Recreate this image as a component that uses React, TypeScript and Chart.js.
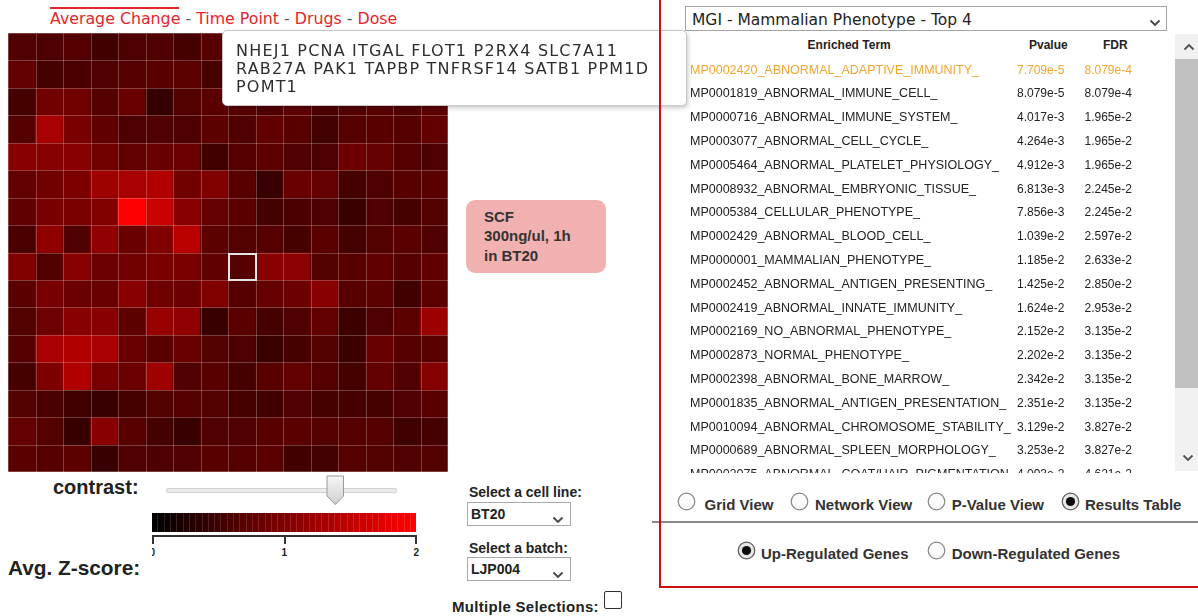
import React, { useEffect, useRef } from "react";
import { Chart, registerables } from "chart.js";

Chart.register(...registerables);

// ---------------- DATA ----------------
const columnLabels = ["1", "2", "3", "4", "5", "6", "7", "8", "9", "10", "11", "12", "13", "14", "15", "16"];

// Average z-score per cell, one array per heatmap row (top to bottom)
const zRow01 = [0.63, 0.60, 0.67, 0.50, 0.60, 0.63, 0.54, 0.69, 0.66, 0.62, 0.70, 0.58, 0.64, 0.68, 0.60, 0.65];
const zRow02 = [0.77, 0.56, 0.58, 0.63, 0.67, 0.69, 0.72, 0.56, 0.60, 0.71, 0.64, 0.66, 0.58, 0.70, 0.62, 0.67];
const zRow03 = [0.54, 0.89, 0.88, 0.67, 0.82, 0.42, 0.64, 0.71, 0.68, 0.62, 0.72, 0.60, 0.66, 0.70, 0.64, 0.74];
const zRow04 = [0.67, 1.32, 0.94, 0.75, 0.60, 0.63, 0.60, 0.72, 0.63, 0.77, 0.69, 0.52, 0.67, 0.69, 0.67, 0.77];
const zRow05 = [1.07, 1.04, 1.07, 0.89, 0.77, 0.82, 0.83, 0.50, 0.67, 0.72, 0.63, 0.60, 0.85, 0.79, 0.67, 0.60];
const zRow06 = [0.77, 0.88, 0.97, 1.25, 1.32, 1.38, 0.88, 1.00, 0.69, 0.44, 0.82, 0.79, 0.56, 0.60, 0.69, 0.71];
const zRow07 = [0.75, 0.94, 0.94, 1.00, 2.00, 1.57, 1.07, 0.79, 0.71, 0.54, 0.58, 0.60, 0.44, 0.63, 0.54, 0.64];
const zRow08 = [0.58, 1.13, 0.63, 1.13, 0.82, 1.00, 1.44, 0.72, 0.64, 0.67, 0.56, 0.71, 0.54, 0.64, 0.71, 0.63];
const zRow09 = [1.00, 0.63, 1.07, 0.83, 0.89, 0.96, 0.94, 0.75, 0.67, 1.07, 1.10, 0.64, 0.69, 0.75, 0.67, 0.75];
const zRow10 = [0.71, 0.94, 0.83, 0.82, 1.07, 0.88, 0.83, 1.00, 0.67, 0.79, 0.83, 1.07, 0.69, 0.72, 0.50, 0.72];
const zRow11 = [0.64, 0.85, 1.07, 1.07, 0.72, 1.19, 1.13, 0.44, 0.71, 0.56, 0.63, 0.77, 0.47, 0.60, 0.72, 1.22];
const zRow12 = [0.67, 1.32, 1.38, 1.32, 0.82, 0.69, 0.82, 0.64, 0.60, 0.45, 0.56, 0.64, 0.47, 0.82, 0.67, 0.69];
const zRow13 = [0.56, 0.97, 1.38, 0.94, 0.83, 1.25, 0.63, 0.69, 0.56, 0.69, 0.77, 0.67, 0.54, 0.77, 0.63, 1.04];
const zRow14 = [0.64, 0.60, 0.50, 0.44, 0.56, 0.64, 0.67, 0.64, 0.56, 0.50, 0.63, 0.54, 0.56, 0.54, 0.63, 0.69];
const zRow15 = [0.79, 0.67, 0.42, 1.07, 0.69, 0.54, 0.44, 0.63, 0.63, 0.69, 0.71, 0.67, 0.67, 0.67, 0.49, 0.56];
const zRow16 = [0.71, 0.67, 0.72, 0.44, 0.63, 0.60, 0.63, 0.69, 0.67, 0.71, 0.50, 0.52, 0.67, 0.64, 0.63, 0.64];
const zRows = [zRow01, zRow02, zRow03, zRow04, zRow05, zRow06, zRow07, zRow08, zRow09, zRow10, zRow11, zRow12, zRow13, zRow14, zRow15, zRow16];

const selectedRow = 8;
const selectedCol = 8;
const zMax = 2;
const colorbarTicks = ["0", "1", "2"];

const headerParts = ["Average Change", "Time Point", "Drugs", "Dose"];
const tooltipLines = ["NHEJ1 PCNA ITGAL FLOT1 P2RX4 SLC7A11", "RAB27A PAK1 TAPBP TNFRSF14 SATB1 PPM1D", "POMT1"];
const infoLines = ["SCF", "300ng/ul, 1h", "in BT20"];

const enrichedTerms = [
  "MP0002420_ABNORMAL_ADAPTIVE_IMMUNITY_",
  "MP0001819_ABNORMAL_IMMUNE_CELL_",
  "MP0000716_ABNORMAL_IMMUNE_SYSTEM_",
  "MP0003077_ABNORMAL_CELL_CYCLE_",
  "MP0005464_ABNORMAL_PLATELET_PHYSIOLOGY_",
  "MP0008932_ABNORMAL_EMBRYONIC_TISSUE_",
  "MP0005384_CELLULAR_PHENOTYPE_",
  "MP0002429_ABNORMAL_BLOOD_CELL_",
  "MP0000001_MAMMALIAN_PHENOTYPE_",
  "MP0002452_ABNORMAL_ANTIGEN_PRESENTING_",
  "MP0002419_ABNORMAL_INNATE_IMMUNITY_",
  "MP0002169_NO_ABNORMAL_PHENOTYPE_",
  "MP0002873_NORMAL_PHENOTYPE_",
  "MP0002398_ABNORMAL_BONE_MARROW_",
  "MP0001835_ABNORMAL_ANTIGEN_PRESENTATION_",
  "MP0010094_ABNORMAL_CHROMOSOME_STABILITY_",
  "MP0000689_ABNORMAL_SPLEEN_MORPHOLOGY_",
  "MP0002075_ABNORMAL_COAT/HAIR_PIGMENTATION_",
];
const pValues = ["7.709e-5", "8.079e-5", "4.017e-3", "4.264e-3", "4.912e-3", "6.813e-3", "7.856e-3", "1.039e-2", "1.185e-2", "1.425e-2", "1.624e-2", "2.152e-2", "2.202e-2", "2.342e-2", "2.351e-2", "3.129e-2", "3.253e-2", "4.093e-2"];
const fdrValues = ["8.079e-4", "8.079e-4", "1.965e-2", "1.965e-2", "1.965e-2", "2.245e-2", "2.245e-2", "2.597e-2", "2.633e-2", "2.850e-2", "2.953e-2", "3.135e-2", "3.135e-2", "3.135e-2", "3.135e-2", "3.827e-2", "3.827e-2", "4.621e-2"];
const highlightedTerm = 0;

const viewOptions = ["Grid View", "Network View", "P-Value View", "Results Table"];
const viewChecked = 3;
const regulationOptions = ["Up-Regulated Genes", "Down-Regulated Genes"];
const regulationChecked = 0;

// ---------------- HELPERS ----------------
const ARIAL = '"Liberation Sans", Arial, Helvetica, sans-serif';
const VERDANA = '"DejaVu Sans", Verdana, sans-serif';

function zColor(z: number) {
  const t = Math.max(0, Math.min(1, z / zMax));
  return `rgb(${Math.round(255 * t)},0,0)`;
}

type TProps = {
  x: number; y: number; size: number; lh?: number; bold?: boolean; font?: string;
  color?: string; spacing?: number; children: React.ReactNode; style?: React.CSSProperties;
};
function T({ x, y, size, lh, bold, font, color, spacing, children, style }: TProps) {
  const L = lh ?? Math.round(size * 1.25);
  return (
    <div
      style={{
        position: "absolute", left: x, top: y - L / 2, fontSize: size, lineHeight: L + "px",
        fontFamily: font ?? ARIAL, fontWeight: bold ? 700 : 400, color: color ?? "#222",
        whiteSpace: "nowrap", letterSpacing: spacing ?? 0, ...style,
      }}
    >
      {children}
    </div>
  );
}

function Chevron({ x, y, up, color }: { x: number; y: number; up?: boolean; color?: string }) {
  return (
    <svg style={{ position: "absolute", left: x - 6, top: y - 4 }} width={12} height={8}>
      <polyline
        points={up ? "1.5,6.5 6,2 10.5,6.5" : "1.5,1.5 6,6 10.5,1.5"}
        fill="none" stroke={color ?? "#444"} strokeWidth={1.8}
      />
    </svg>
  );
}

function Radio({ cx, cy, checked }: { cx: number; cy: number; checked?: boolean }) {
  return (
    <svg style={{ position: "absolute", left: cx - 9.5, top: cy - 9.5 }} width={19} height={19}>
      <circle cx={9.5} cy={9.5} r={8.3} fill={checked ? "#e8e8e8" : "#fbfbfb"} stroke={checked ? "#5a5a5a" : "#858585"} strokeWidth={1.2} />
      {checked && <circle cx={9.5} cy={9.5} r={4.6} fill="#0c0c0c" />}
    </svg>
  );
}

// ---------------- HEATMAP (Chart.js) ----------------
function Heatmap() {
  const ref = useRef<HTMLCanvasElement>(null);
  useEffect(() => {
    const canvas = ref.current;
    if (!canvas) return;
    const gridPlugin = {
      id: "cellGrid",
      afterDatasetsDraw(chart: any) {
        const { ctx, chartArea, scales } = chart;
        const xs = scales.x;
        const ys = scales.y;
        const n = columnLabels.length;
        const xb: number[] = [];
        for (let i = 0; i <= n; i++) {
          if (i === 0) xb.push(chartArea.left);
          else if (i === n) xb.push(chartArea.right);
          else xb.push((xs.getPixelForValue(i - 1) + xs.getPixelForValue(i)) / 2);
        }
        const yb: number[] = [];
        for (let k = 0; k <= zRows.length; k++) yb.push(ys.getPixelForValue(k));
        ctx.save();
        ctx.strokeStyle = "rgba(255,235,235,0.26)";
        ctx.lineWidth = 1;
        ctx.beginPath();
        xb.forEach((x) => {
          const px = Math.min(Math.max(Math.round(x), chartArea.left), chartArea.right - 1) + 0.5;
          ctx.moveTo(px, chartArea.top);
          ctx.lineTo(px, chartArea.bottom);
        });
        yb.forEach((y) => {
          const py = Math.min(Math.max(Math.round(y), chartArea.top), chartArea.bottom - 1) + 0.5;
          ctx.moveTo(chartArea.left, py);
          ctx.lineTo(chartArea.right, py);
        });
        ctx.stroke();
        const x0 = Math.round(xb[selectedCol]);
        const x1 = Math.round(xb[selectedCol + 1]);
        const y0 = Math.round(yb[selectedRow]);
        const y1 = Math.round(yb[selectedRow + 1]);
        ctx.strokeStyle = "#e4e4e4";
        ctx.lineWidth = 2;
        ctx.strokeRect(x0 + 1, y0 + 1, x1 - x0 - 1, y1 - y0 - 1);
        ctx.restore();
      },
    };
    const datasets = zRows.map((row, i) => ({
      label: `Row ${i + 1}`,
      data: row.map(() => 1),
      backgroundColor: row.map((z) => zColor(z)),
      borderWidth: 0,
      barPercentage: 1,
      categoryPercentage: 1,
      stack: "cells",
    }));
    const chart = new Chart(canvas, {
      type: "bar",
      data: { labels: columnLabels, datasets },
      options: {
        responsive: false,
        animation: false,
        devicePixelRatio: 1,
        layout: { padding: 0 },
        events: [],
        plugins: { legend: { display: false }, tooltip: { enabled: false } },
        scales: {
          x: { type: "category", stacked: true, display: false, offset: true },
          y: { type: "linear", stacked: true, min: 0, max: zRows.length, reverse: true, display: false },
        },
      } as any,
      plugins: [gridPlugin],
    });
    return () => chart.destroy();
  }, []);
  return (
    <canvas
      ref={ref}
      width={440}
      height={439}
      style={{ position: "absolute", left: 8, top: 33, width: 440, height: 439, background: "#520000" }}
    />
  );
}

// ---------------- APP ----------------
export default function App() {
  const segCount = 42;
  const segments = Array.from({ length: segCount }, (_, i) => (i / (segCount - 1)) * zMax);
  const rowStep = 23.8;

  return (
    <div style={{ position: "fixed", left: 0, top: 0, width: 1198, height: 616, overflow: "hidden", background: "#fff" }}>
      {/* header */}
      <div style={{ position: "absolute", left: 50, top: 7, width: 129, height: 2, background: "#e5252c" }} />
      <T x={50} y={18.5} size={15.8} lh={20} font={VERDANA} color="#e5252c">
        {headerParts.map((p, i) => (
          <span key={p}>
            {i > 0 && <span style={{ color: "#555" }}> - </span>}
            {p}
          </span>
        ))}
      </T>

      <Heatmap />

      {/* info box */}
      <div style={{ position: "absolute", left: 466, top: 200, width: 140, height: 73, borderRadius: 9, background: "#f2b1b1" }} />
      {infoLines.map((l, i) => (
        <T key={l} x={484} y={216.7 + i * 19.2} size={15} lh={19} bold color="#333">{l}</T>
      ))}

      {/* contrast */}
      <T x={53} y={487} size={20} lh={22} bold color="#222">contrast:</T>
      <div style={{ position: "absolute", left: 166, top: 488, width: 231, height: 5, boxSizing: "border-box", background: "#ebebeb", border: "1px solid #d2d2d2", borderRadius: 2 }} />
      <svg style={{ position: "absolute", left: 326, top: 475 }} width={19} height={31}>
        <defs>
          <linearGradient id="thumbG" x1="0" y1="0" x2="0" y2="1">
            <stop offset="0" stopColor="#f7f7f7" />
            <stop offset="1" stopColor="#cfcfcf" />
          </linearGradient>
        </defs>
        <polygon points="1,1 17.5,1 17.5,21 9.25,29.5 1,21" fill="url(#thumbG)" stroke="#9a9a9a" strokeWidth={1} />
      </svg>

      {/* colour bar */}
      <div style={{ position: "absolute", left: 152, top: 513, width: 264, height: 19, display: "flex" }}>
        {segments.map((z, i) => (
          <div key={i} style={{ flex: 1, background: zColor(z), borderRight: i < segCount - 1 ? "1px solid rgba(255,255,255,0.14)" : "none" }} />
        ))}
      </div>
      <div style={{ position: "absolute", left: 152, top: 535, width: 265, height: 2, background: "#333" }} />
      {colorbarTicks.map((t, i) => (
        <div key={"tk" + t} style={{ position: "absolute", left: 152 + i * 131.5, top: 535, width: 2, height: 9, background: "#333" }} />
      ))}
      <div style={{ position: "absolute", left: 152, top: 540, width: 280, height: 20, overflow: "hidden" }}>
        {colorbarTicks.map((t, i) => (
          <T key={t} x={i * 132 - 2.5} y={13} size={10} lh={12} bold color="#222">{t}</T>
        ))}
      </div>
      <T x={8} y={568} size={20.8} lh={24} bold color="#222">Avg. Z-score:</T>

      {/* selectors */}
      <T x={469} y={492} size={14} lh={16} bold color="#222">Select a cell line:</T>
      <div style={{ position: "absolute", left: 467, top: 502, width: 104, height: 24, boxSizing: "border-box", border: "1px solid #a9a9a9", background: "#fff" }} />
      <T x={471} y={514} size={14} lh={16} bold color="#222">BT20</T>
      <Chevron x={558} y={520} />
      <T x={469} y={547.5} size={14} lh={16} bold color="#222">Select a batch:</T>
      <div style={{ position: "absolute", left: 467, top: 557, width: 104, height: 24, boxSizing: "border-box", border: "1px solid #a9a9a9", background: "#fff" }} />
      <T x={471} y={569} size={14} lh={16} bold color="#222">LJP004</T>
      <Chevron x={558} y={575} />
      <T x={452} y={606.7} size={15} lh={17} bold color="#222" spacing={0.3}>Multiple Selections:</T>
      <div style={{ position: "absolute", left: 604, top: 591, width: 18, height: 18, boxSizing: "border-box", border: "1px solid #333", borderRadius: 2, background: "#fff" }} />

      {/* tooltip */}
      <div style={{ position: "absolute", left: 222, top: 30, width: 465, height: 76, boxSizing: "border-box", border: "1px solid #c9c9c9", borderRadius: 5, background: "#fff", boxShadow: "1px 2px 4px rgba(0,0,0,0.22)" }} />
      {tooltipLines.map((l, i) => (
        <T key={l} x={236} y={50.7 + i * 18} size={16} lh={18} font={VERDANA} color="#2e2e2e" spacing={1.2}>{l}</T>
      ))}

      {/* right panel */}
      <div style={{ position: "absolute", left: 685, top: 6, width: 482, height: 25, boxSizing: "border-box", border: "1px solid #a4a4a4", background: "#fff" }} />
      <T x={692} y={20} size={15.5} lh={18} font={VERDANA} color="#222">MGI - Mammalian Phenotype - Top 4</T>
      <Chevron x={1155} y={23} />

      <T x={807.6} y={45} size={12} lh={14} bold color="#222">Enriched Term</T>
      <T x={1029} y={45} size={12} lh={14} bold color="#222">Pvalue</T>
      <T x={1103} y={45} size={12} lh={14} bold color="#222">FDR</T>

      <div style={{ position: "absolute", left: 660, top: 57, width: 515, height: 416, overflow: "hidden" }}>
        {enrichedTerms.map((term, i) => {
          const c = i === highlightedTerm ? "#f5a42c" : "#222";
          const y = 70 + i * rowStep - 57;
          return (
            <React.Fragment key={term}>
              <T x={30} y={y} size={12.5} lh={15} color={c}>{term}</T>
              <T x={357} y={y} size={12} lh={15} color={c}>{pValues[i]}</T>
              <T x={424.5} y={y} size={12} lh={15} color={c}>{fdrValues[i]}</T>
            </React.Fragment>
          );
        })}
      </div>

      {/* scrollbar */}
      <div style={{ position: "absolute", left: 1175, top: 34, width: 23, height: 437, background: "#f1f1f1" }} />
      <div style={{ position: "absolute", left: 1175, top: 59, width: 23, height: 329, background: "#c1c1c1" }} />
      <Chevron x={1188.5} y={47} up color="#505050" />
      <Chevron x={1188} y={458} color="#505050" />

      {/* view radios */}
      {viewOptions.map((v, i) => {
        const cx = [686, 799, 936, 1070][i];
        const lx = [704.6, 815, 951.7, 1085][i];
        return (
          <React.Fragment key={v}>
            <Radio cx={cx} cy={501} checked={i === viewChecked} />
            <T x={lx} y={505} size={15} lh={18} bold color="#333">{v}</T>
          </React.Fragment>
        );
      })}
      <div style={{ position: "absolute", left: 652, top: 521, width: 546, height: 2, background: "#8a8a8a" }} />
      {regulationOptions.map((v, i) => {
        const cx = [746, 936][i];
        const lx = [761, 951.7][i];
        return (
          <React.Fragment key={v}>
            <Radio cx={cx} cy={550} checked={i === regulationChecked} />
            <T x={lx} y={553.5} size={15} lh={18} bold color="#333">{v}</T>
          </React.Fragment>
        );
      })}

      {/* panel border (drawn on top, transparent) */}
      <div style={{ position: "absolute", left: 659, top: -10, width: 600, height: 598, boxSizing: "border-box", borderLeft: "2px solid #cc1010", borderBottom: "2px solid #cc1010", pointerEvents: "none" }} />
    </div>
  );
}
